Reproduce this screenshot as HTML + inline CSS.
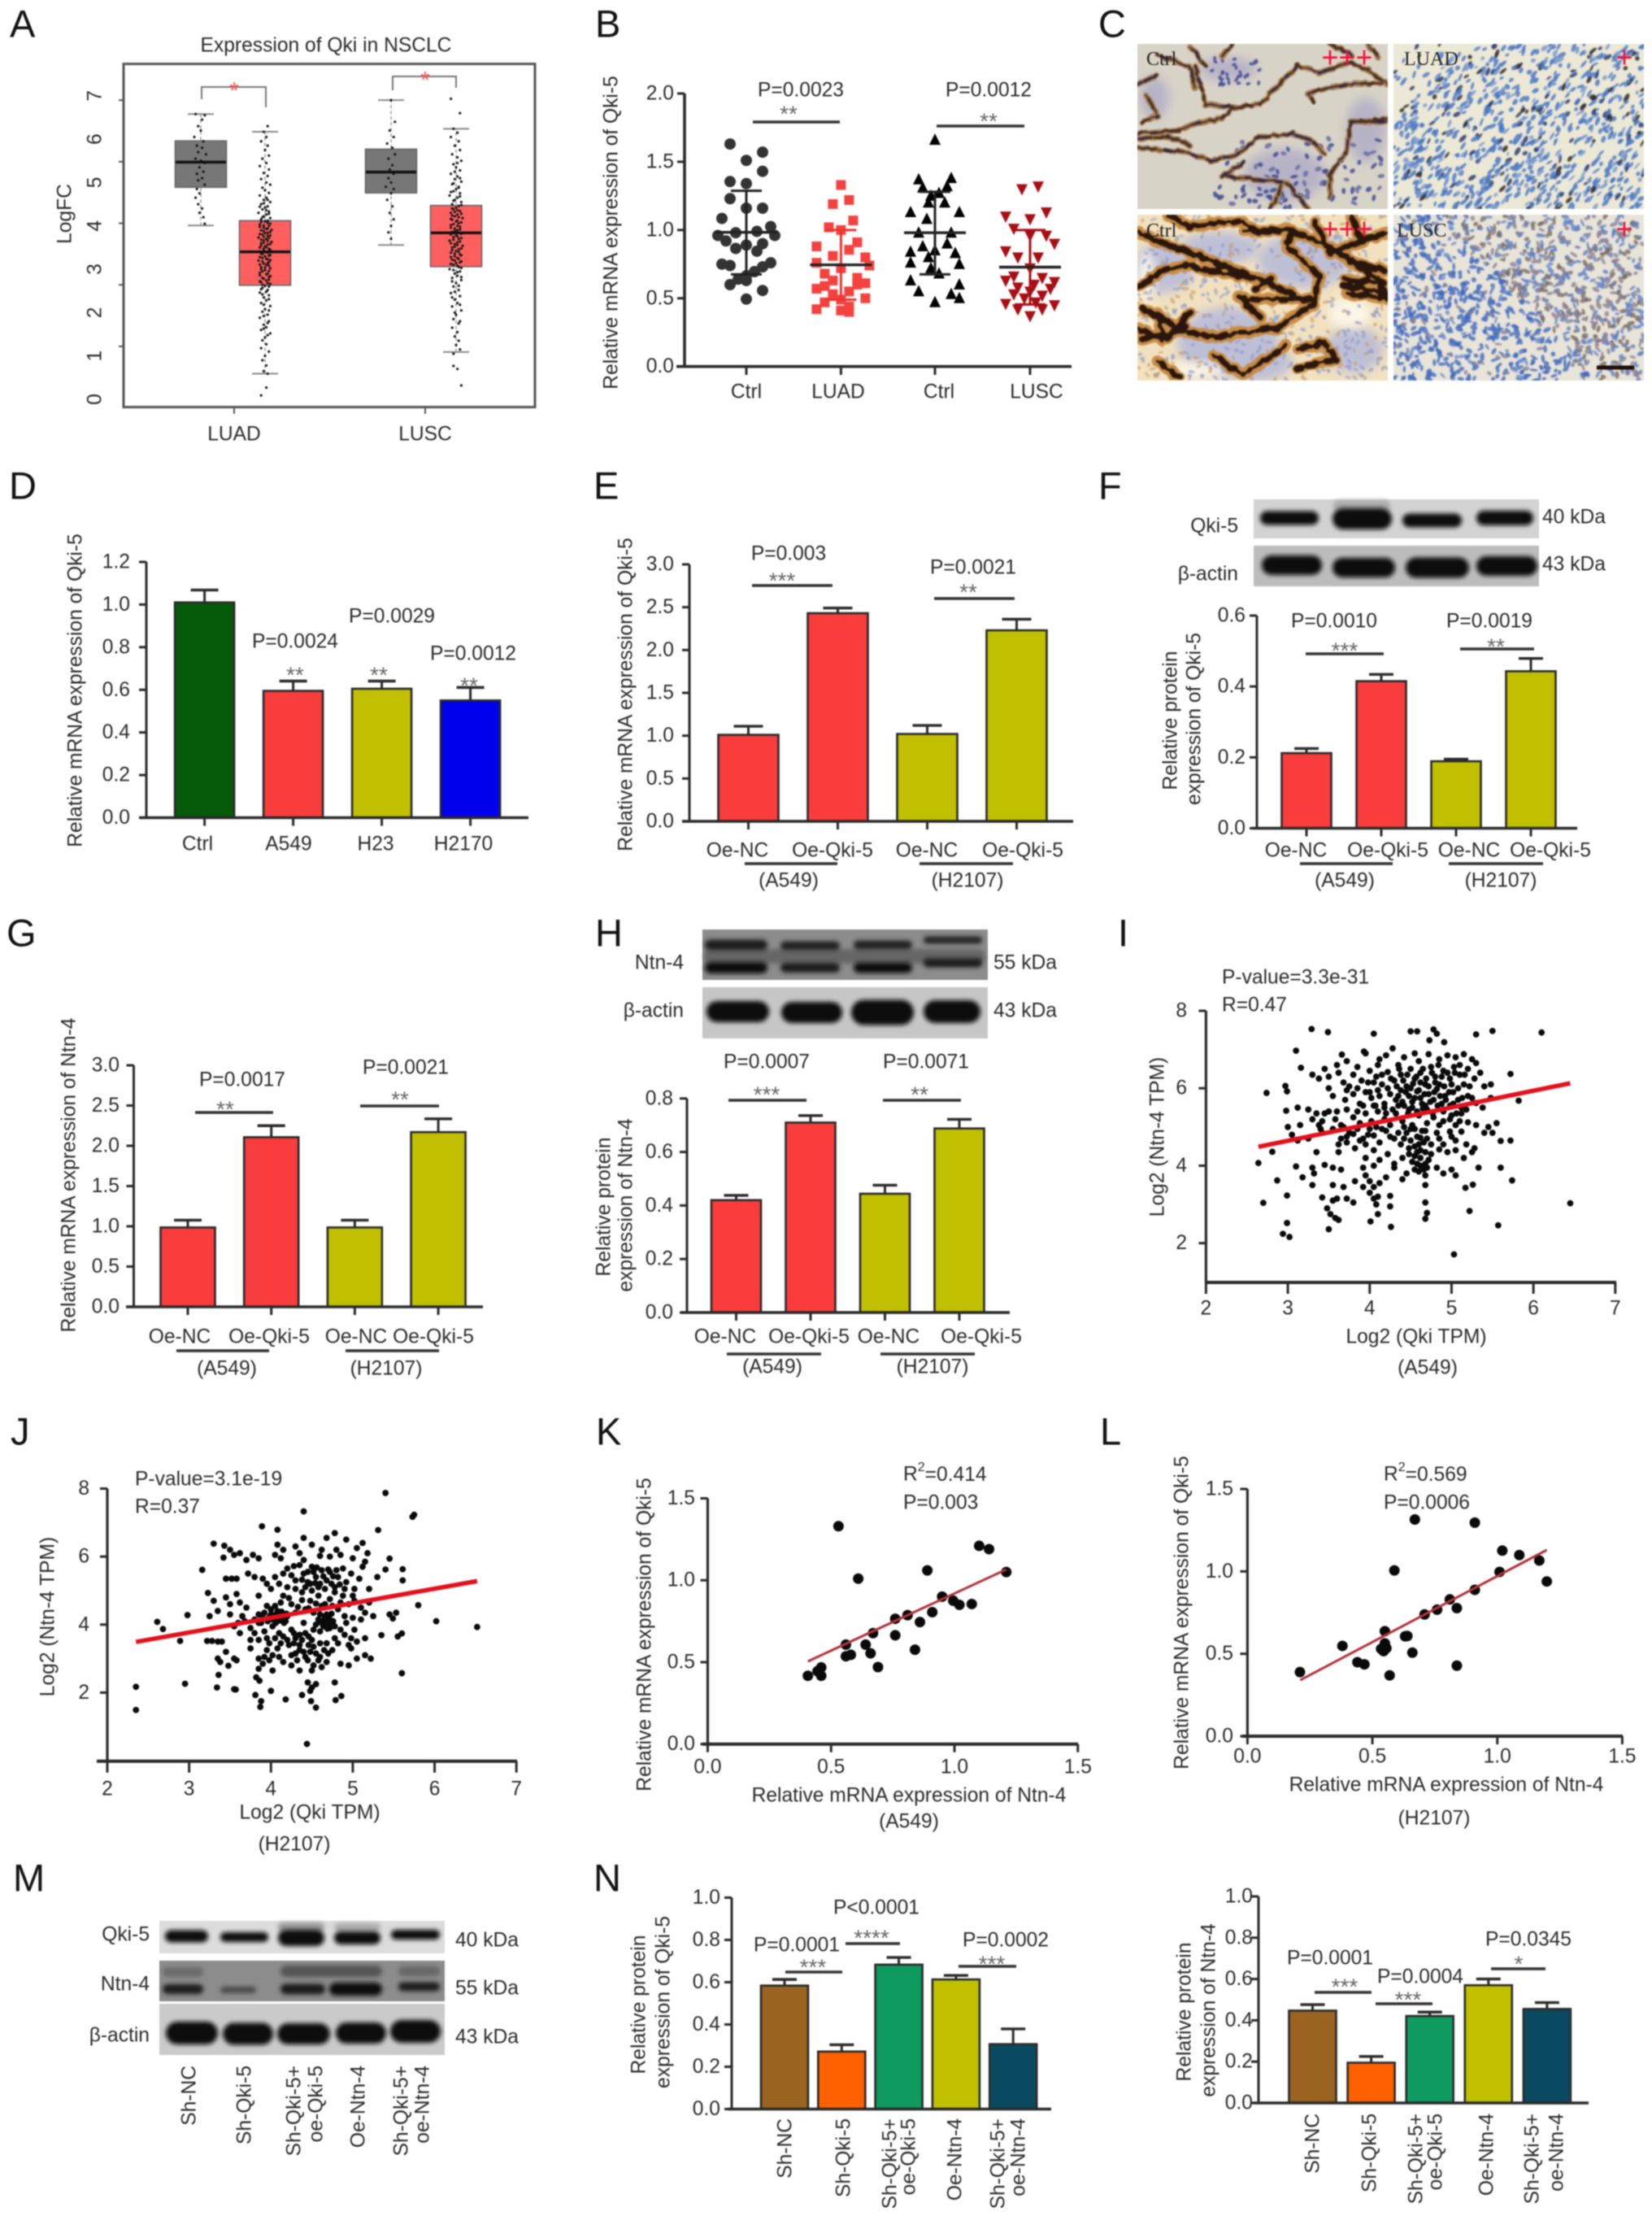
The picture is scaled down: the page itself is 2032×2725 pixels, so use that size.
<!DOCTYPE html>
<html lang="en">
<head>
<meta charset="utf-8">
<title>Qki-5 and Ntn-4 expression in NSCLC</title>
<style>
html,body{margin:0;padding:0;background:#fff}
svg{display:block;filter:blur(.7px)}
text{font-family:"Liberation Sans",Arial,sans-serif;font-size:24.6px;fill:#2a2a2a;dominant-baseline:central}
.m{text-anchor:middle}
.e{text-anchor:end}
.L{font-size:47px;fill:#111}
.s{font-size:28px;fill:#666;text-anchor:middle}
.r{fill:#f5103a;font-size:36px;text-anchor:middle}
.h{font-family:"Liberation Serif",serif;font-size:24px;fill:#222}
.u{stroke:#333;stroke-width:3.6}
</style>
</head>
<body>
<svg id="figure" width="2032" height="2725" viewBox="0 0 2032 2725" xmlns="http://www.w3.org/2000/svg">
<defs>
<filter id="b1" x="-2%" y="-2%" width="104%" height="104%"><feGaussianBlur stdDeviation=".9"/></filter>
<filter id="b2" x="-20%" y="-80%" width="140%" height="260%"><feGaussianBlur stdDeviation="2.6"/></filter>
<filter id="b6" x="-30%" y="-30%" width="160%" height="160%"><feGaussianBlur stdDeviation="6"/></filter>
<clipPath id="c-tl"><rect x="1399" y="54" width="308" height="203"/></clipPath>
<clipPath id="c-tr"><rect x="1714" y="54" width="308" height="203"/></clipPath>
<clipPath id="c-bl"><rect x="1399" y="264" width="308" height="204"/></clipPath>
<clipPath id="c-br"><rect x="1714" y="264" width="308" height="204"/></clipPath>
</defs>
<rect width="2032" height="2725" fill="#fff"/>
<g id="marks"></g>

<g>
<text class="L" x="12" y="29">A</text>
<text class="L" x="732" y="29">B</text>
<text class="L" x="1351" y="29">C</text>
<text class="L" x="11" y="597">D</text>
<text class="L" x="730" y="597">E</text>
<text class="L" x="1351" y="597">F</text>
<text class="L" x="8" y="1147">G</text>
<text class="L" x="732" y="1147">H</text>
<text class="L" x="1375" y="1147">I</text>
<text class="L" x="13" y="1760">J</text>
<text class="L" x="733" y="1760">K</text>
<text class="L" x="1353" y="1760">L</text>
<text class="L" x="16" y="2309">M</text>
<text class="L" x="730" y="2309">N</text>
</g>

<g>
<text class="m" x="401" y="56">Expression of Qki in NSCLC</text>
<text class="m" transform="rotate(-90 80 263)" x="80" y="263">LogFC</text>
<text class="m" x="288" y="534">LUAD</text>
<text class="m" x="523" y="534">LUSC</text>
<text class="m" x="288" y="112" style="fill:#f55;font-size:30px">*</text>
<text class="m" x="523" y="99" style="fill:#f55;font-size:30px">*</text>
</g>

<g>
<text class="m" transform="rotate(-90 752 286)" x="752" y="286">Relative mRNA expression of Qki-5</text>
<text class="m" x="918" y="482">Ctrl</text>
<text class="m" x="1031" y="482">LUAD</text>
<text class="m" x="1155" y="482">Ctrl</text>
<text class="m" x="1275" y="482">LUSC</text>
<text class="m" x="985" y="111">P=0.0023</text>
<text class="s" x="970" y="140">**</text>
<line class="u" x1="926" y1="150" x2="1033" y2="150"/>
<text class="m" x="1216" y="111">P=0.0012</text>
<text class="s" x="1216" y="149">**</text>
<line class="u" x1="1152" y1="155" x2="1260" y2="155"/>
</g>

<g>
<text class="h" x="1410" y="73">Ctrl</text>
<text class="h" x="1727" y="73">LUAD</text>
<text class="h" x="1410" y="284">Ctrl</text>
<text class="h" x="1718" y="284">LUSC</text>
<text class="r" x="1657" y="70">+++</text>
<text class="r" x="1998" y="70">+</text>
<text class="r" x="1657" y="281">+++</text>
<text class="r" x="1998" y="281">+</text>
</g>

<g>
<text class="m" transform="rotate(-90 93 849)" x="93" y="849">Relative mRNA expression of Qki-5</text>
<text class="m" x="243" y="1038">Ctrl</text>
<text class="m" x="355" y="1038">A549</text>
<text class="m" x="462" y="1038">H23</text>
<text class="m" x="570" y="1038">H2170</text>
<text class="m" x="363" y="789">P=0.0024</text>
<text class="m" x="482" y="758">P=0.0029</text>
<text class="m" x="582" y="804">P=0.0012</text>
<text class="s" x="363" y="830">**</text>
<text class="s" x="466" y="830">**</text>
<text class="s" x="577" y="843">**</text>
</g>

<g>
<text class="m" transform="rotate(-90 770 854)" x="770" y="854">Relative mRNA expression of Qki-5</text>
<text class="m" x="907" y="1046">Oe-NC</text>
<text class="m" x="1024" y="1046">Oe-Qki-5</text>
<text class="m" x="1140" y="1046">Oe-NC</text>
<text class="m" x="1258" y="1046">Oe-Qki-5</text>
<line class="u" x1="916" y1="1062" x2="1030" y2="1062"/>
<line class="u" x1="1131" y1="1062" x2="1246" y2="1062"/>
<text class="m" x="970" y="1083">(A549)</text>
<text class="m" x="1190" y="1083">(H2107)</text>
<text class="m" x="970" y="681">P=0.003</text>
<text class="s" x="962" y="714">***</text>
<line class="u" x1="925" y1="720" x2="1024" y2="720"/>
<text class="m" x="1197" y="698">P=0.0021</text>
<text class="s" x="1191" y="728">**</text>
<line class="u" x1="1149" y1="736" x2="1248" y2="736"/>
</g>

<g>
<text class="e" x="1523" y="647">Qki-5</text>
<text class="e" x="1523" y="706">β-actin</text>
<text x="1897" y="636">40 kDa</text>
<text x="1897" y="694">43 kDa</text>
<text class="m" transform="rotate(-90 1440 886)" x="1440" y="886">Relative protein</text>
<text class="m" transform="rotate(-90 1469 884)" x="1469" y="884">expression of Qki-5</text>
<text class="m" x="1594" y="1046">Oe-NC</text>
<text class="m" x="1707" y="1046">Oe-Qki-5</text>
<text class="m" x="1807" y="1046">Oe-NC</text>
<text class="m" x="1907" y="1046">Oe-Qki-5</text>
<line class="u" x1="1599" y1="1062" x2="1713" y2="1062"/>
<line class="u" x1="1782" y1="1062" x2="1898" y2="1062"/>
<text class="m" x="1654" y="1083">(A549)</text>
<text class="m" x="1846" y="1083">(H2107)</text>
<text class="m" x="1641" y="764">P=0.0010</text>
<text class="s" x="1654" y="800">***</text>
<line class="u" x1="1606" y1="804" x2="1702" y2="804"/>
<text class="m" x="1832" y="764">P=0.0019</text>
<text class="s" x="1840" y="795">**</text>
<line class="u" x1="1796" y1="798" x2="1887" y2="798"/>
</g>

<g>
<text class="m" transform="rotate(-90 85 1445)" x="85" y="1445">Relative mRNA expression of Ntn-4</text>
<text class="m" x="221" y="1644">Oe-NC</text>
<text class="m" x="331" y="1644">Oe-Qki-5</text>
<text class="m" x="438" y="1644">Oe-NC</text>
<text class="m" x="533" y="1644">Oe-Qki-5</text>
<line class="u" x1="217" y1="1661" x2="331" y2="1661"/>
<line class="u" x1="425" y1="1661" x2="540" y2="1661"/>
<text class="m" x="279" y="1683">(A549)</text>
<text class="m" x="475" y="1683">(H2107)</text>
<text class="m" x="298" y="1328">P=0.0017</text>
<text class="s" x="277" y="1364">**</text>
<line class="u" x1="240" y1="1368" x2="336" y2="1368"/>
<text class="m" x="499" y="1313">P=0.0021</text>
<text class="s" x="492" y="1352">**</text>
<line class="u" x1="443" y1="1360" x2="540" y2="1360"/>
</g>

<g>
<text class="e" x="841" y="1184">Ntn-4</text>
<text class="e" x="841" y="1243">β-actin</text>
<text x="1222" y="1184">55 kDa</text>
<text x="1222" y="1243">43 kDa</text>
<text class="m" transform="rotate(-90 743 1484)" x="743" y="1484">Relative protein</text>
<text class="m" transform="rotate(-90 770 1482)" x="770" y="1482">expression of Ntn-4</text>
<text class="m" x="892" y="1644">Oe-NC</text>
<text class="m" x="995" y="1644">Oe-Qki-5</text>
<text class="m" x="1093" y="1644">Oe-NC</text>
<text class="m" x="1207" y="1644">Oe-Qki-5</text>
<line class="u" x1="894" y1="1665" x2="1010" y2="1665"/>
<line class="u" x1="1083" y1="1665" x2="1199" y2="1665"/>
<text class="m" x="950" y="1681">(A549)</text>
<text class="m" x="1147" y="1681">(H2107)</text>
<text class="m" x="943" y="1306">P=0.0007</text>
<text class="s" x="943" y="1346">***</text>
<line class="u" x1="896" y1="1353" x2="992" y2="1353"/>
<text class="m" x="1139" y="1306">P=0.0071</text>
<text class="s" x="1131" y="1346">**</text>
<line class="u" x1="1086" y1="1353" x2="1182" y2="1353"/>
</g>

<g>
<text x="1503" y="1202">P-value=3.3e-31</text>
<text x="1503" y="1236">R=0.47</text>
<text class="m" transform="rotate(-90 1424 1398)" x="1424" y="1398">Log2 (Ntn-4 TPM)</text>
<text class="m" x="1742" y="1644">Log2 (Qki TPM)</text>
<text class="m" x="1756" y="1682">(A549)</text>
</g>

<g>
<text x="166" y="1819">P-value=3.1e-19</text>
<text x="166" y="1853">R=0.37</text>
<text class="m" transform="rotate(-90 59 1988)" x="59" y="1988">Log2 (Ntn-4 TPM)</text>
<text class="m" x="381" y="2229">Log2 (Qki TPM)</text>
<text class="m" x="362" y="2268">(H2107)</text>
</g>

<g>
<text x="1111" y="1813">R<tspan dy="-9" font-size="16">2</tspan><tspan dy="9">=0.414</tspan></text>
<text x="1111" y="1848">P=0.003</text>
<text class="m" transform="rotate(-90 793 2010)" x="793" y="2010">Relative mRNA expression of Qki-5</text>
<text class="m" x="1118" y="2208">Relative mRNA expression of Ntn-4</text>
<text class="m" x="1118" y="2240">(A549)</text>
</g>

<g>
<text x="1702" y="1813">R<tspan dy="-9" font-size="16">2</tspan><tspan dy="9">=0.569</tspan></text>
<text x="1702" y="1848">P=0.0006</text>
<text class="m" transform="rotate(-90 1454 1983)" x="1454" y="1983">Relative mRNA expression of Qki-5</text>
<text class="m" x="1779" y="2195">Relative mRNA expression of Ntn-4</text>
<text class="m" x="1764" y="2236">(H2107)</text>
</g>

<g>
<text class="e" x="184" y="2379">Qki-5</text>
<text class="e" x="184" y="2440">Ntn-4</text>
<text class="e" x="184" y="2503">β-actin</text>
<text x="560" y="2386">40 kDa</text>
<text x="560" y="2445">55 kDa</text>
<text x="560" y="2505">43 kDa</text>
<text class="e" transform="rotate(-90 233 2540)" x="233" y="2540">Sh-NC</text>
<text class="e" transform="rotate(-90 301 2540)" x="301" y="2540">Sh-Qki-5</text>
<text class="e" transform="rotate(-90 362 2540)" x="362" y="2540">Sh-Qki-5+</text>
<text class="e" transform="rotate(-90 389 2540)" x="389" y="2540">oe-Qki-5</text>
<text class="e" transform="rotate(-90 441 2540)" x="441" y="2540">Oe-Ntn-4</text>
<text class="e" transform="rotate(-90 494 2540)" x="494" y="2540">Sh-Qki-5+</text>
<text class="e" transform="rotate(-90 520 2540)" x="520" y="2540">oe-Ntn-4</text>
</g>

<g>
<text class="m" transform="rotate(-90 786 2465)" x="786" y="2465">Relative protein</text>
<text class="m" transform="rotate(-90 816 2462)" x="816" y="2462">expression of Qki-5</text>
<text class="e" transform="rotate(-90 966 2605)" x="966" y="2605">Sh-NC</text>
<text class="e" transform="rotate(-90 1038 2605)" x="1038" y="2605">Sh-Qki-5</text>
<text class="e" transform="rotate(-90 1095 2605)" x="1095" y="2605">Sh-Qki-5+</text>
<text class="e" transform="rotate(-90 1118 2605)" x="1118" y="2605">oe-Qki-5</text>
<text class="e" transform="rotate(-90 1175 2605)" x="1175" y="2605">Oe-Ntn-4</text>
<text class="e" transform="rotate(-90 1228 2605)" x="1228" y="2605">Sh-Qki-5+</text>
<text class="e" transform="rotate(-90 1253 2605)" x="1253" y="2605">oe-Ntn-4</text>
<text class="m" x="980" y="2392">P=0.0001</text>
<text class="s" x="1000" y="2419">***</text>
<line class="u" x1="966" y1="2425" x2="1036" y2="2425"/>
<text class="m" x="1078" y="2346">P&lt;0.0001</text>
<text class="s" x="1072" y="2383">****</text>
<line class="u" x1="1040" y1="2390" x2="1107" y2="2390"/>
<text class="m" x="1237" y="2386">P=0.0002</text>
<text class="s" x="1220" y="2415">***</text>
<line class="u" x1="1179" y1="2418" x2="1250" y2="2418"/>
</g>

<g>
<text class="m" transform="rotate(-90 1457 2474)" x="1457" y="2474">Relative protein</text>
<text class="m" transform="rotate(-90 1487 2472)" x="1487" y="2472">expression of Ntn-4</text>
<text class="e" transform="rotate(-90 1615 2599)" x="1615" y="2599">Sh-NC</text>
<text class="e" transform="rotate(-90 1685 2599)" x="1685" y="2599">Sh-Qki-5</text>
<text class="e" transform="rotate(-90 1742 2599)" x="1742" y="2599">Sh-Qki-5+</text>
<text class="e" transform="rotate(-90 1766 2599)" x="1766" y="2599">oe-Qki-5</text>
<text class="e" transform="rotate(-90 1829 2599)" x="1829" y="2599">Oe-Ntn-4</text>
<text class="e" transform="rotate(-90 1885 2599)" x="1885" y="2599">Sh-Qki-5+</text>
<text class="e" transform="rotate(-90 1915 2599)" x="1915" y="2599">oe-Ntn-4</text>
<text class="m" x="1636" y="2408">P=0.0001</text>
<text class="s" x="1654" y="2443">***</text>
<line class="u" x1="1617" y1="2450" x2="1687" y2="2450"/>
<text class="m" x="1747" y="2431">P=0.0004</text>
<text class="s" x="1732" y="2459">***</text>
<line class="u" x1="1692" y1="2464" x2="1762" y2="2464"/>
<text class="m" x="1880" y="2385">P=0.0345</text>
<text class="s" x="1868" y="2415">*</text>
<line class="u" x1="1834" y1="2421" x2="1901" y2="2421"/>
</g>
</svg>

<script>
// ---------- panel A data: [q1, median, q3, whisker low, whisker high]
const aTickLabels = [0,1,2,3,4,5,6,7];
const aTickMarks = [6.9,5.48,4.06,2.64,1.22];
const aLuadNormalBox = [4.89,5.47,5.96,4.01,6.58];
const aLuadTumorBox = [2.63,3.40,4.12,0.59,6.17];
const aLuscNormalBox = [4.76,5.24,5.77,3.56,6.9];
const aLuscTumorBox = [3.06,3.84,4.47,1.09,6.24];
// [value, horizontal jitter]
const aLuadNormalPts = [[6.58,-4],[6.55,3],[6.45,1],[6.3,-2],[6.2,0],[6.05,-5],[5.95,2],[5.85,-3],[5.8,1],[5.7,-2],[5.65,4],[5.55,-4],[5.5,0],[5.45,3],[5.35,-1],[5.25,2],[5.2,-3],[5.1,1],[5.05,-2],[4.95,3],[4.85,-3],[4.75,-1],[4.65,-4],[4.5,-2],[4.4,1],[4.3,-1],[4.2,2],[4.05,3]];
const aLuadTumorPts = [[6.3,2],[6.17,-1],[6.05,1],[5.95,-3],[5.85,2],[5.75,0],[5.62,3],[5.55,-2],[5.45,1],[5.38,-4],[5.3,3],[5.22,-1],[5.15,2],[5.08,-3],[5.0,1],[4.95,4],[4.88,-2],[4.82,0],[4.76,3],[4.7,-4],[4.65,1],[4.6,-1],[4.55,4],[4.5,-3],[4.45,2],[4.42,0],[4.38,-2],[4.33,3],[4.3,-5],[4.26,1],[4.22,-1],[4.18,4],[4.15,-3],[4.1,0],[4.07,2],[4.03,-4],[4.0,3],[3.96,-1],[3.93,1],[3.9,-3],[3.86,4],[3.83,0],[3.8,-2],[3.77,2],[3.73,-5],[3.7,1],[3.67,-1],[3.63,5],[3.6,-3],[3.57,2],[3.53,0],[3.5,-4],[3.47,3],[3.43,-1],[3.4,1],[3.36,-3],[3.33,4],[3.3,0],[3.26,-2],[3.23,2],[3.2,-5],[3.16,3],[3.13,-1],[3.1,1],[3.05,-3],[3.02,4],[2.98,0],[2.95,-2],[2.9,2],[2.86,-4],[2.82,3],[2.78,-1],[2.74,1],[2.7,-3],[2.66,4],[2.62,0],[2.57,-2],[2.52,2],[2.46,-4],[2.4,3],[2.35,-1],[2.28,1],[2.22,-3],[2.15,4],[2.08,0],[2.02,-2],[1.95,2],[1.88,-4],[1.8,3],[1.72,-1],[1.66,1],[1.6,-3],[1.52,4],[1.43,0],[1.36,-2],[1.27,1],[1.18,-3],[1.1,3],[1.0,0],[.9,-2],[.78,1],[.65,-1],[.59,2],[.27,1],[.09,-3],
[4.6,2],[4.52,-1],[4.44,-4],[4.36,1],[4.28,3],[4.2,-2],[4.12,2],[4.09,-3],[4.05,4],[4.01,-1],[3.98,-4],[3.94,2],[3.91,5],[3.88,-1],[3.84,2],[3.81,-4],[3.78,4],[3.75,-1],[3.72,3],[3.68,-3],[3.65,2],[3.61,-1],[3.58,4],[3.55,-3],[3.51,1],[3.48,-1],[3.45,4],[3.41,-4],[3.38,2],[3.35,-2],[3.31,3],[3.28,-4],[3.24,1],[3.21,4],[3.18,-2],[3.14,2],[3.11,-4],[3.08,3],[3.04,0],[3.0,-3],[2.96,3],[2.92,-4],[2.88,1],[2.84,4],[2.8,-2],[2.76,3],[2.72,-4],[2.68,2],[2.64,-2],[2.6,3],[2.54,-3],[2.48,1],[2.42,-2],[2.31,3],[2.18,-1],[2.05,3],[1.92,-1],[1.76,2],[1.63,-1],[1.48,2]];
const aLuscNormalPts = [[6.9,0],[6.4,3],[6.2,-1],[6.05,2],[5.9,-3],[5.8,1],[5.65,3],[5.55,-2],[5.4,1],[5.3,-1],[5.2,2],[5.1,-2],[5.0,0],[4.9,-4],[4.85,2],[4.75,0],[4.6,-3],[4.45,1],[4.3,-1],[4.15,2],[4.0,0],[3.85,-2],[3.7,0]];
const aLuscTumorPts = [[6.93,-4],[6.6,3],[6.24,-2],[6.15,1],[6.05,-4],[5.95,2],[5.85,-1],[5.75,3],[5.65,-3],[5.58,1],[5.5,4],[5.42,-2],[5.35,0],[5.28,3],[5.2,-4],[5.14,1],[5.08,-1],[5.02,4],[4.96,-3],[4.9,2],[4.85,0],[4.8,-2],[4.75,3],[4.7,-5],[4.65,1],[4.6,-1],[4.55,4],[4.5,-3],[4.46,2],[4.42,0],[4.38,-2],[4.34,3],[4.3,-4],[4.26,1],[4.22,-1],[4.18,5],[4.14,-3],[4.1,0],[4.06,2],[4.02,-4],[3.98,3],[3.94,-1],[3.9,1],[3.86,-3],[3.82,4],[3.78,0],[3.74,-2],[3.7,2],[3.66,-5],[3.62,1],[3.58,-1],[3.54,5],[3.5,-3],[3.46,2],[3.42,0],[3.38,-4],[3.34,3],[3.3,-1],[3.26,1],[3.22,-3],[3.18,4],[3.14,0],[3.1,-2],[3.05,2],[3.0,-5],[2.95,3],[2.9,-1],[2.85,1],[2.8,-3],[2.75,4],[2.68,0],[2.6,-2],[2.52,2],[2.45,-4],[2.38,3],[2.3,-1],[2.22,1],[2.14,-3],[2.05,4],[1.95,0],[1.85,-2],[1.75,2],[1.65,-3],[1.55,1],[1.45,-1],[1.35,2],[1.25,0],[1.15,3],[1.05,-2],[.77,-2],[.7,1],[.32,4],
[5.45,1],[5.25,-1],[5.1,3],[4.98,-2],[4.88,2],[4.78,-4],[4.68,3],[4.58,-2],[4.48,4],[4.4,-3],[4.36,1],[4.32,-1],[4.28,4],[4.24,-3],[4.2,2],[4.16,-4],[4.12,1],[4.08,4],[4.04,-2],[4.0,1],[3.96,-4],[3.92,3],[3.88,-1],[3.84,3],[3.8,-4],[3.76,1],[3.72,4],[3.68,-2],[3.64,3],[3.6,-4],[3.56,1],[3.52,-1],[3.48,4],[3.44,-3],[3.4,2],[3.36,-1],[3.32,4],[3.28,-4],[3.24,2],[3.2,-1],[3.16,3],[3.12,-4],[3.08,1],[3.03,4],[2.98,-2],[2.93,1],[2.82,4],[2.72,-3],[2.62,2],[2.48,-1],[2.35,-3],[2.18,3],[2.0,-1],[1.8,3]];

// ---------- panel B data: [value, swarm slot]
const bTicks = [0,.5,1,1.5,2];
const bCtrlLuad = [[1.63,-2],[1.57,2],[1.51,0],[1.43,2],[1.355,-2],[1.34,0],[1.23,-2],[1.16,0],[1.16,2],[1.085,-3],[1.025,3],[.99,1.3],[.98,-1.3],[.96,-3.5],[.96,3.5],[.92,-2.5],[.89,0],[.9,2],[.865,-1.3],[.845,1.3],[.76,3],[.75,-3],[.74,-2],[.73,2],[.695,1],[.665,0],[.64,-1],[.6,-2],[.63,0],[.557,2],[.494,0]];
const bLuad = [[1.33,0],[1.22,1],[1.19,-1],[1.07,1.5],[1.02,-1.5],[1.0,0],[.91,2],[.88,-3],[.855,1],[.81,-1],[.8,3],[.76,-3],[.74,3.5],[.72,0],[.68,-2],[.65,2],[.63,-1],[.61,3],[.6,2],[.59,-2],[.57,-3],[.55,1],[.53,-1],[.5,3],[.49,0],[.47,-2],[.44,1],[.42,-3],[.41,0],[.4,1]];
const bCtrlLusc = [[1.66,0],[1.38,2],[1.37,-2],[1.32,1.5],[1.31,-1.5],[1.27,.5],[1.25,-.5],[1.2,-.8],[1.2,1.2],[1.13,-3],[1.13,3],[1.08,-1],[.98,-2],[.98,2],[.9,1.5],[.88,-1.5],[.85,0],[.84,-3],[.83,2.5],[.8,-.8],[.76,-3],[.75,3],[.72,-.5],[.68,.5],[.63,-3],[.6,3],[.55,-2],[.53,2],[.5,3],[.47,0]];
const bLusc = [[1.32,1],[1.30,-1],[1.13,2],[1.1,-3],[1.08,0],[1.01,-2],[.96,2],[.9,3],[.96,0],[.845,-3],[.8,-1.5],[.8,1],[.72,0],[.66,-2],[.65,1.5],[.63,-3],[.62,3],[.6,.5],[.58,-1.5],[.57,2.5],[.55,0],[.53,-2],[.52,1.5],[.5,-.7],[.47,.7],[.46,-3],[.45,3],[.42,-1.5],[.42,1.5],[.37,0]];
// [mean, sd low, sd high]
const bSummary = [[.983,.675,1.287],[.745,.49,1.0],[.98,.675,1.28],[.728,.455,1.0]];

// ---------- bar panels
const dCategories = ['Ctrl','A549','H23','H2170'];
const dValues = [1.01,.595,.605,.55];
const dErrors = [.058,.046,.036,.061];
const dTicks = [0,.2,.4,.6,.8,1,1.2];
const eCategories = ['Oe-NC A549','Oe-Qki-5 A549','Oe-NC H2107','Oe-Qki-5 H2107'];
const eValues = [1.01,2.43,1.02,2.23];
const eErrors = [.10,.06,.10,.13];
const eTicks = [0,.5,1,1.5,2,2.5,3];
const fCategories = ['Oe-NC A549','Oe-Qki-5 A549','Oe-NC H2107','Oe-Qki-5 H2107'];
const fValues = [.212,.415,.189,.443];
const fErrors = [.013,.019,.006,.036];
const fTicks = [0,.2,.4,.6];
const gCategories = ['Oe-NC A549','Oe-Qki-5 A549','Oe-NC H2107','Oe-Qki-5 H2107'];
const gValues = [.986,2.107,.986,2.17];
const gErrors = [.09,.143,.09,.165];
const gTicks = [0,.5,1,1.5,2,2.5,3];
const hCategories = ['Oe-NC A549','Oe-Qki-5 A549','Oe-NC H2107','Oe-Qki-5 H2107'];
const hValues = [.42,.71,.444,.688];
const hErrors = [.018,.026,.032,.034];
const hTicks = [0,.2,.4,.6,.8];
const nCategories = ['Sh-NC','Sh-Qki-5','Sh-Qki-5+oe-Qki-5','Oe-Ntn-4','Sh-Qki-5+oe-Ntn-4'];
const n1Values = [.584,.272,.683,.613,.307];
const n1Errors = [.029,.032,.034,.019,.072];
const n2Values = [.447,.195,.421,.57,.455];
const n2Errors = [.029,.03,.019,.03,.031];
const nTicks = [0,.2,.4,.6,.8,1];

// ---------- scatter panels
const iYTicks = [2,4,6,8];
const iXTicks = [2,3,4,5,6,7];
const iFit = [[2.64,4.49],[6.45,6.13]];
const iPoints = [[3.29,7.53],[3.49,7.45],[4.05,7.41],[4.5,7.47],[4.58,7.47],[4.78,7.52],[4.82,7.41],[4.73,7.24],[4.91,7.19],[5.3,7.39],[5.5,7.48],[6.1,7.44],[3.1,6.97],[3.16,6.53],[4.28,7.03],[3.93,6.95],[3.66,6.87],[2.74,5.88],[2.97,6.06],[2.99,5.92],[5.72,6.37],[5.82,5.68],[5.72,4.65],[5.6,4.64],[5.6,3.95],[5.74,3.62],[6.45,3.03],[5.57,2.46],[5.03,1.71],[2.64,4.07],[2.81,4.36],[2.87,3.62],[2.7,3.04],[2.99,3.23],[2.99,2.52],[2.94,2.24],[3.02,2.16],[3.5,2.36],[4.01,2.56],[4.26,2.42],[4.68,2.63],[5.22,2.83],[5.26,3.51],[5.17,3.43],[5.33,3.95],
[3.72,6.7],[3.95,6.9],[4.12,6.75],[4.2,6.85],[4.35,6.6],[4.42,6.8],[4.55,6.9],[4.6,6.7],[4.72,6.88],[4.85,6.75],[4.95,6.85],[5.05,6.8],[5.15,6.88],[5.25,6.75],[5.3,6.65],[4.1,6.6],[3.85,6.55],[3.6,6.6],[3.45,6.5],[3.3,6.35],[3.38,6.25],[3.5,6.3],
[3.62,6.4],[3.8,6.35],[3.9,6.2],[4.0,6.45],[4.08,6.3],[4.15,6.1],[4.22,6.42],[4.3,6.2],[4.38,6.35],[4.45,6.05],[4.5,6.5],[4.55,6.25],[4.62,6.4],[4.68,6.1],[4.75,6.55],[4.8,6.3],[4.85,6.1],[4.9,6.45],[4.98,6.25],[5.03,6.55],[5.1,6.35],[5.15,6.1],[5.2,6.5],[5.28,6.25],[5.35,6.4],[5.4,6.05],[5.48,6.1],[3.5,6.0],[3.68,6.15],[3.72,5.95],
[3.55,5.8],[3.7,5.7],[3.8,5.85],[3.88,5.6],[3.95,5.9],[4.02,5.75],[4.1,5.95],[4.18,5.6],[4.25,5.85],[4.32,5.7],[4.38,5.95],[4.42,5.55],[4.48,5.8],[4.52,5.65],[4.58,5.92],[4.62,5.75],[4.68,5.55],[4.72,5.85],[4.78,5.7],[4.82,5.98],[4.88,5.6],[4.92,5.8],[4.98,5.55],[5.02,5.9],[5.08,5.7],[5.12,5.5],[5.2,5.8],[5.3,5.62],[5.38,5.5],[5.48,5.75],
[3.25,5.45],[3.35,5.35],[3.42,5.15],[3.5,5.4],[3.58,5.2],[3.65,5.05],[3.72,5.45],[3.8,5.25],[3.88,5.1],[3.95,5.35],[4.02,5.15],[4.1,5.4],[4.18,5.2],[4.25,5.05],[4.32,5.35],[4.4,5.15],[4.48,5.45],[4.52,5.05],[4.6,5.3],[4.65,5.48],[4.7,5.1],[4.78,5.25],[4.85,5.05],[4.9,5.4],[4.98,5.2],[5.05,5.05],[5.12,5.35],[5.2,5.12],[5.3,5.05],[5.45,5.0],[5.55,5.1],[3.15,5.05],[3.0,5.0],[2.98,5.42],[3.12,5.5],
[3.05,4.8],[3.12,4.65],[3.25,4.7],[3.42,4.85],[3.55,4.95],[3.65,4.7],[3.72,4.6],[3.8,4.82],[3.88,4.65],[3.95,4.55],[4.05,4.78],[4.12,4.6],[4.2,4.9],[4.3,4.7],[4.38,4.55],[4.45,4.85],[4.5,4.65],[4.55,4.5],[4.62,4.72],[4.68,4.9],[4.75,4.55],[4.82,4.85],[4.9,4.55],[4.98,4.88],[5.05,4.65],[5.12,4.88],[5.18,4.55],[5.28,4.45],[5.4,4.85],[5.5,4.85],
[3.35,4.35],[3.62,4.35],[3.82,4.45],[3.95,4.2],[4.05,4.4],[4.12,4.15],[4.22,4.3],[4.3,4.05],[4.4,4.2],[4.48,4.45],[4.52,4.1],[4.58,4.35],[4.62,4.2],[4.68,4.05],[4.75,4.3],[4.85,4.42],[4.95,4.35],[5.05,4.4],[5.15,4.2],[5.25,4.35],
[3.1,3.98],[3.3,3.95],[3.32,3.8],[3.45,4.02],[3.55,3.95],[3.65,3.9],[3.82,3.6],[3.92,3.95],[4.05,4.0],[4.12,3.55],[4.2,3.7],[4.3,3.95],[4.4,3.65],[4.45,3.8],[4.55,3.9],[4.68,3.75],[4.82,3.95],[4.9,3.8],[5.0,3.9],[5.05,3.75],[3.18,3.7],
[3.3,3.5],[3.42,3.18],[3.55,3.5],[3.55,3.1],[3.72,3.15],[3.8,3.05],[3.92,3.45],[4.0,3.3],[4.05,3.15],[4.08,3.0],[4.25,3.22],[4.68,3.5],[3.48,2.9],[3.52,2.75],[3.58,2.65],[3.62,2.6],[4.1,2.75],[4.25,2.95],[4.68,3.05],[4.7,2.78],
[4.0,5.9],[4.05,6.15],[4.12,5.8],[4.15,6.35],[4.18,5.5],[4.22,6.0],[4.26,6.25],[4.28,5.45],[4.33,6.05],[4.35,5.8],[4.36,6.5],[4.4,5.65],[4.41,6.2],[4.44,5.9],[4.46,6.35],[4.47,5.35],[4.5,6.0],[4.52,5.5],[4.53,6.12],[4.55,5.75],[4.57,6.3],[4.58,5.4],[4.6,5.95],[4.62,6.15],[4.64,5.6],[4.65,6.5],[4.67,5.85],[4.69,6.25],[4.7,5.45],[4.72,6.05],[4.74,5.65],[4.76,6.4],[4.77,5.35],[4.79,5.9],[4.8,6.15],[4.83,5.55],[4.84,6.6],[4.86,5.8],[4.88,6.3],[4.9,5.45],[4.91,6.05],[4.93,5.7],[4.95,6.4],[4.97,5.9],[5.0,6.1],[5.02,5.6],[5.04,6.4],[5.06,5.35],[5.08,6.0],[5.1,6.6],[5.13,5.75],[5.16,6.35],[5.18,5.45],[5.22,6.05],[5.25,5.75],[3.75,6.05],[3.85,6.0],[3.92,5.55],[3.98,6.15],[4.07,5.55],[4.55,4.95],[4.58,4.75],[4.6,4.55],[4.62,4.4],[4.64,4.9],[4.66,4.6],[4.68,4.35],[4.7,4.7],[4.72,4.15],[4.55,4.25],[4.58,4.05],[4.6,3.85],[4.62,4.0],[4.66,3.9],[4.7,3.95],[4.5,4.95],[4.48,4.3],[4.42,4.7],[4.35,4.85],[4.25,4.75],[4.15,4.95],[4.08,5.0],[3.98,4.8],[3.85,4.95],[3.75,4.85],[3.68,5.0],[3.6,5.4],[3.45,5.35],[3.38,5.05],[3.3,5.2],[3.4,4.95],[3.62,4.55],[3.72,4.75],[3.92,4.7],[4.0,4.95],[4.9,5.15],[5.0,5.3],[5.1,5.15],[5.0,4.75],[4.85,4.7],[3.85,5.4],[4.05,5.55],[4.2,5.35],[4.35,5.55],[4.42,5.0],[3.95,3.75],[4.0,3.6],[4.05,3.45],[4.1,3.2],[3.68,3.45],[3.6,3.15]];
const jYTicks = [2,4,6,8];
const jXTicks = [2,3,4,5,6,7];
const jFit = [[2.35,3.49],[6.52,5.28]];
const jPoints = [[5.4,7.87],[4.4,7.33],[5.73,7.17],[5.75,7.23],[3.89,6.89],[4.08,6.79],[5.31,6.78],[4.78,6.69],[3.3,6.38],[3.43,6.32],[3.16,5.61],[3.23,4.93],[2.98,4.28],[2.61,4.08],[2.68,3.87],[2.89,3.52],[2.35,2.17],[2.35,1.49],[2.95,2.26],[3.34,2.15],[3.57,2.09],[3.36,2.52],[3.48,2.79],[3.81,1.93],[3.87,1.58],[4.18,1.8],[4.38,1.93],[4.49,1.75],[4.55,1.56],[4.79,1.78],[4.86,1.9],[4.44,.49],[5.6,2.57],[6.52,3.93],[6.02,4.1],[5.8,4.57],[5.61,5.63],[5.61,5.3],[5.45,5.94],[5.35,3.69],[5.55,3.65],[5.6,3.74],[5.53,4.35],[5.49,4.18],
[3.62,6.1],[3.7,5.9],[3.78,6.05],[3.85,5.95],[3.5,6.2],[3.55,6.05],[3.42,5.97],[4.05,6.05],[4.12,5.95],[4.15,6.2],[4.08,6.35],[4.3,6.3],[4.35,6.1],[4.4,6.55],[4.5,6.35],[4.62,6.2],[4.6,6.02],[4.68,6.55],[4.72,6.0],[4.8,6.2],[4.85,6.05],[4.92,6.5],[5.0,5.95],[5.05,6.25],[5.12,6.4],[5.18,6.1],[5.15,5.85],
[3.72,5.5],[3.8,5.4],[3.9,5.35],[3.95,5.2],[4.0,5.05],[4.05,5.4],[4.1,5.2],[4.15,5.5],[4.2,5.1],[4.3,5.3],[4.35,5.75],[4.4,5.5],[4.45,5.25],[4.5,5.7],[4.55,5.4],[4.58,5.1],[4.62,5.6],[4.68,5.3],[4.72,5.55],[4.78,5.1],[4.82,5.4],[4.88,5.65],[4.92,5.25],[4.98,5.5],[5.02,5.05],[5.08,5.35],[5.12,5.7],[5.2,5.05],[5.3,5.4],[5.4,5.62],[3.45,5.35],[3.52,5.35],[3.58,5.35],[4.28,5.72],
[3.3,4.7],[3.35,4.4],[3.25,4.25],[3.45,4.8],[3.5,4.6],[3.58,4.9],[3.62,4.65],[3.5,4.3],[3.7,4.5],[3.85,4.85],[3.95,4.55],[4.0,4.3],[4.05,4.55],[4.1,4.35],[4.15,4.85],[4.2,4.25],[4.25,4.6],[4.3,4.35],[4.38,4.95],[4.42,4.45],[4.48,4.7],[4.52,4.35],[4.58,4.85],[4.62,4.55],[4.68,4.3],[4.72,4.75],[4.78,4.95],[4.82,4.45],[4.88,4.85],[4.95,4.6],[5.02,4.7],[5.1,4.5],[5.2,4.65],[5.15,4.35],[5.25,4.25],[5.45,4.3],[3.9,4.2],[3.98,4.22],[4.08,4.18],[4.14,4.25],
[3.55,3.95],[3.62,3.75],[3.75,3.55],[3.85,4.05],[3.92,3.8],[3.95,3.6],[4.02,3.95],[4.1,3.75],[4.12,3.45],[4.18,4.1],[4.25,3.85],[4.3,3.6],[4.35,3.4],[4.4,4.05],[4.42,3.75],[4.5,3.55],[4.55,4.0],[4.6,3.8],[4.65,4.15],[4.68,4.0],[4.7,4.1],[4.72,3.9],[4.78,3.6],[4.82,3.45],[4.9,3.7],[4.98,3.6],[5.05,3.5],[5.15,3.6],[3.35,3.5],[3.4,3.5],[3.22,3.52],[3.28,3.52],
[3.35,3.0],[3.38,2.9],[3.45,3.2],[3.55,3.0],[3.58,2.95],[3.75,3.3],[3.85,3.0],[3.9,2.85],[3.85,2.7],[3.98,2.95],[4.02,2.65],[4.1,3.05],[4.15,2.9],[4.25,2.8],[4.3,3.15],[4.35,2.65],[4.4,3.2],[4.45,2.95],[4.52,2.8],[4.6,3.05],[4.68,2.9],[4.75,3.25],[4.85,2.85],[4.95,2.8],[4.98,3.3],[5.05,3.0],[5.15,3.1],[5.22,3.0],[3.82,2.45],[3.86,2.35],[3.55,2.1],
[4.0,2.05],[4.45,2.3],[4.5,2.15],[4.55,2.25],[4.48,2.05],[4.78,2.3],[3.88,1.75],
[3.92,4.35],[3.96,4.1],[4.0,4.45],[4.02,4.15],[4.04,4.28],[4.06,4.05],[4.08,4.4],[4.11,4.12],[4.13,4.38],[4.16,4.05],[4.19,4.32],[3.88,4.05],[3.85,4.3],[3.8,4.15],[4.64,3.95],[4.66,4.25],[4.67,4.12],[4.69,3.88],[4.71,4.2],[4.73,4.02],[4.74,4.32],[4.76,4.1],[4.62,4.05],[4.6,4.3],[4.58,4.15],[4.78,3.95],[4.45,5.55],[4.48,5.2],[4.5,5.0],[4.52,5.55],[4.54,5.22],[4.56,5.68],[4.6,5.2],[4.64,5.42],[4.66,5.05],[4.7,5.62],[4.74,5.2],[4.76,5.42],[4.8,5.6],[4.84,5.18],[4.4,5.9],[4.42,5.1],[4.38,5.32],[4.3,5.05],[4.25,5.45],[4.2,5.65],[4.22,3.4],[4.25,3.1],[4.28,3.45],[4.32,2.95],[4.35,3.25],[4.38,3.55],[4.42,3.05],[4.46,3.4],[4.48,3.2],[4.5,2.65],[4.52,3.35],[4.55,3.15],[4.58,2.95],[4.6,3.45],[4.62,2.75],[4.65,3.25],[4.68,3.45],[4.7,3.15],[4.08,3.3],[4.02,3.1],[3.95,3.25],[3.92,3.05],[3.85,3.55],[3.8,3.75],[3.75,3.9],[3.68,4.1],[3.65,4.25],[3.6,4.05],[3.98,3.45],[4.05,3.6],[4.15,3.65],[4.2,3.55],[4.28,3.75],[4.35,3.7],[4.46,3.65],[4.52,3.85],[4.85,3.85],[4.92,4.05],[5.0,4.2],[5.02,3.85],[5.1,4.15],[4.9,4.25],[4.95,3.4],[5.0,4.85],[4.9,5.05],[4.12,4.65],[4.22,4.78],[4.33,4.52],[4.38,4.72],[4.46,4.48],[4.55,4.62],[4.66,4.6],[4.75,4.55],[4.85,4.65]];
const kTicks = [0,.5,1,1.5];
const kFit = [[.406,.505],[1.21,1.066]];
const kPoints = [[.53,1.33],[.61,1.01],[.89,1.06],[1.10,1.21],[1.14,1.19],[1.21,1.05],[.95,.90],[.995,.875],[1.02,.85],[1.07,.855],[.91,.805],[.81,.787],[.76,.765],[.86,.745],[.67,.677],[.76,.664],[.56,.607],[.64,.607],[.66,.554],[.56,.536],[.58,.545],[.84,.576],[.69,.47],[.46,.468],[.46,.417],[.406,.417],[.445,.445]];
const lTicks = [0,.5,1,1.5];
const lFit = [[.211,.34],[1.198,1.13]];
const lPoints = [[.21,.389],[.38,.548],[.44,.449],[.468,.436],[.588,1.006],[.67,1.315],[.91,1.296],[1.02,1.126],[1.088,1.099],[1.168,1.066],[1.009,.997],[1.198,.939],[.91,.888],[.81,.83],[.838,.777],[.759,.768],[.709,.739],[.55,.637],[.631,.606],[.64,.608],[.55,.563],[.556,.534],[.535,.53],[.545,.516],[.66,.507],[.838,.428],[.569,.369]];

// ---------- helpers
const NS = 'http://www.w3.org/2000/svg';
const root = document.getElementById('marks');
function mk(parent, tag, attrs, name) {
  const el = document.createElementNS(NS, tag);
  for (const k in attrs) el.setAttribute(k, attrs[k]);
  
  
  parent.appendChild(el);
  return el;
}
function group(name, parent) { return mk(parent || root, 'g', {}, name); }
function linear(d0, d1, r0, r1) { return v => r0 + (v - d0) * (r1 - r0) / (d1 - d0); }
function seg(g, x1, y1, x2, y2, stroke, w, name) {
  return mk(g, 'line', {x1, y1, x2, y2, stroke, 'stroke-width': w}, name);
}
function label(g, x, y, str, anchor, name) {
  const t = mk(g, 'text', {x, y, 'text-anchor': anchor}, name);
  t.textContent = str;
  return t;
}
function yAxis(g, x, sy, ticks, top, bottom, fmt, labelX, w, prefix) {
  seg(g, x, top, x, bottom, '#2a2a2a', w, prefix + '-y-axis-line');
  ticks.forEach(v => {
    seg(g, x - 9, sy(v), x, sy(v), '#2a2a2a', 3, prefix + '-y-tick');
    label(g, labelX, sy(v), fmt(v), 'end', prefix + '-y-tick-label');
  });
}
const one = v => v.toFixed(1);
function barPanel(p, cats, vals, errs, colors, sy, c) {
  const g = group(p + '-chart');
  yAxis(g, c.axisX, sy, c.ticks, sy(c.ticks[c.ticks.length - 1]), sy(0) + 1, one, c.labelX, 3, p);
  cats.forEach((cat, i) => {
    const cx = c.first + i * c.step;
    const top = sy(vals[i]), capY = sy(vals[i] + errs[i]);
    seg(g, cx, top, cx, capY, '#2a2a2a', 3, p + '-error-stem');
    seg(g, cx - c.cap, capY, cx + c.cap, capY, '#2a2a2a', 3.4, p + '-error-cap');
    mk(g, 'rect', {x: cx - c.w / 2, y: top, width: c.w, height: sy(0) - top, fill: colors[i], stroke: '#2a2a2a', 'stroke-width': 2.6}, p + '-bar-' + cat.toLowerCase().replace(/[^a-z0-9]+/g, '-'));
    if (c.tick) seg(g, cx, sy(0), cx, sy(0) + 10, '#2a2a2a', 3, p + '-x-tick');
  });
  seg(g, c.xStart, sy(0), c.xEnd, sy(0), '#2a2a2a', 3.6, p + '-x-axis-line');
}
function scatterPanel(p, pts, fit, sx, sy, r, fitColor, fitW, c) {
  const g = group(p + '-chart');
  yAxis(g, c.axisX, sy, c.yTicks, sy(c.yTicks[c.yTicks.length - 1]), c.baseY + 1, c.fmt, c.labelX, 3.2, p);
  seg(g, c.xStart, c.baseY, c.xEnd, c.baseY, '#2a2a2a', 4, p + '-x-axis-line');
  c.xTicks.forEach(v => {
    seg(g, sx(v), c.baseY, sx(v), c.baseY + c.tickLen, '#2a2a2a', 3, p + '-x-tick');
    label(g, sx(v), c.labelY, c.fmt(v), 'middle', p + '-x-tick-label');
  });
  pts.forEach(pt => mk(g, 'circle', {cx: sx(pt[0]), cy: sy(pt[1]), r, fill: '#0a0a0a'}, p + '-point'));
  seg(g, sx(fit[0][0]), sy(fit[0][1]), sx(fit[1][0]), sy(fit[1][1]), fitColor, fitW, p + '-fit-line');
}

// ---------- panel A
(function () {
  const g = group('panel-a-chart');
  const sy = linear(0, 7, 491, 117.8);
  mk(g, 'rect', {x: 152, y: 78.6, width: 506, height: 422, fill: '#fff', stroke: '#555', 'stroke-width': 3}, 'panel-a-frame');
  aTickLabels.forEach(v => {
    const y = sy(v);
    const t = mk(g, 'text', {x: 117, y, 'text-anchor': 'middle', transform: 'rotate(-90 117 ' + y + ')'}, 'panel-a-y-tick-label');
    t.textContent = String(v);
  });
  aTickMarks.forEach(v => seg(g, 146, sy(v), 152, sy(v), '#555', 2, 'panel-a-y-tick'));
  [288, 523].forEach(x => seg(g, x, 501, x, 509, '#555', 2, 'panel-a-x-tick'));
  const boxes = [
    [247, aLuadNormalBox, aLuadNormalPts, '#777', 'luad-normal'],
    [326, aLuadTumorBox, aLuadTumorPts, '#ff5f5f', 'luad-tumor'],
    [481, aLuscNormalBox, aLuscNormalPts, '#777', 'lusc-normal'],
    [561, aLuscTumorBox, aLuscTumorPts, '#ff5f5f', 'lusc-tumor']
  ];
  boxes.forEach(b => {
    const cx = b[0], s = b[1];
    mk(g, 'line', {x1: cx, y1: sy(s[3]), x2: cx, y2: sy(s[4]), stroke: '#999', 'stroke-width': 1.5, 'stroke-dasharray': '4 3'}, 'panel-a-whisker-' + b[4]);
    seg(g, cx - 16, sy(s[3]), cx + 16, sy(s[3]), '#888', 2, 'panel-a-cap-low-' + b[4]);
    seg(g, cx - 16, sy(s[4]), cx + 16, sy(s[4]), '#888', 2, 'panel-a-cap-high-' + b[4]);
    mk(g, 'rect', {x: cx - 31.5, y: sy(s[2]), width: 63, height: sy(s[0]) - sy(s[2]), fill: b[3], stroke: '#666', 'stroke-width': 1.6}, 'panel-a-box-' + b[4]);
    b[2].forEach(pt => mk(g, 'circle', {cx: cx + pt[1] * 1.6, cy: sy(pt[0]), r: 1.6, fill: '#1a1a1a'}, 'panel-a-point-' + b[4]));
    seg(g, cx - 31, sy(s[1]), cx + 31, sy(s[1]), '#111', 3.4, 'panel-a-median-' + b[4]);
  });
  mk(g, 'path', {d: 'M248 122 V107 H327 V132', fill: 'none', stroke: '#777', 'stroke-width': 2}, 'panel-a-bracket-luad');
  mk(g, 'path', {d: 'M483 111 V94 H561 V108', fill: 'none', stroke: '#777', 'stroke-width': 2}, 'panel-a-bracket-lusc');
})();

// ---------- panel B
(function () {
  const g = group('panel-b-chart');
  const sy = linear(0, 2, 450.7, 115);
  yAxis(g, 842, sy, bTicks, 115, 452, one, 829, 3.6, 'panel-b');
  seg(g, 832, 450.7, 1318, 450.7, '#2a2a2a', 3.6, 'panel-b-x-axis-line');
  const xs = [918, 1034.4, 1150, 1267];
  xs.forEach(x => seg(g, x, 451, x, 461, '#2a2a2a', 3, 'panel-b-x-tick'));
  const sets = [[bCtrlLuad, '#333', 'c', 'ctrl-luad'], [bLuad, '#f4433f', 's', 'luad'], [bCtrlLusc, '#000', 't', 'ctrl-lusc'], [bLusc, '#a80f14', 'd', 'lusc']];
  sets.forEach((set, i) => {
    const cx = xs[i];
    set[0].forEach(pt => {
      const x = cx + pt[1] * 10, y = sy(pt[0]);
      if (set[2] === 'c') mk(g, 'circle', {cx: x, cy: y, r: 7, fill: set[1]}, 'panel-b-point-' + set[3]);
      if (set[2] === 's') mk(g, 'rect', {x: x - 6, y: y - 6, width: 12, height: 12, fill: set[1]}, 'panel-b-point-' + set[3]);
      if (set[2] === 't') mk(g, 'polygon', {points: [x, y - 8, x - 7, y + 6, x + 7, y + 6].join(' '), fill: set[1]}, 'panel-b-point-' + set[3]);
      if (set[2] === 'd') mk(g, 'polygon', {points: [x, y + 8, x - 7, y - 6, x + 7, y - 6].join(' '), fill: set[1]}, 'panel-b-point-' + set[3]);
    });
    const m = bSummary[i], col = '#222';
    const stem = i === 1 ? '#e33' : i === 3 ? '#a80f14' : col;
    seg(g, cx, sy(m[1]), cx, sy(m[2]), stem, 3, 'panel-b-sd-stem-' + set[3]);
    seg(g, cx - 19, sy(m[1]), cx + 19, sy(m[1]), stem, 3, 'panel-b-sd-low-' + set[3]);
    seg(g, cx - 19, sy(m[2]), cx + 19, sy(m[2]), stem, 3, 'panel-b-sd-high-' + set[3]);
    seg(g, cx - 38, sy(m[0]), cx + 38, sy(m[0]), col, 3.4, 'panel-b-mean-' + set[3]);
  });
})();

// ---------- panel C (histology textures, not data)
(function () {
  let seed = 20417;
  function rnd() {
    seed = (seed * 1664525 + 1013904223) % 4294967296;
    return seed / 4294967296;
  }
  function toX(x) { return 1000 + x * .6623; }
  function toY(y) { return y * .3571; }
  const frames = [
    ['tl', 1399, 54, 308, 203, '#d8d3c7'],
    ['tr', 1714, 54, 308, 203, '#ece8d6'],
    ['bl', 1399, 264, 308, 204, '#f1e1bf'],
    ['br', 1714, 264, 308, 204, '#e8e4d8']
  ];
  const ink = {
    tl: ['603,290 640,260', '710,230 720,300 730,360 780,370 830,360 860,300 900,225 940,250 1000,215 1030,240 1068,290', '930,350 920,320 990,290 1060,285', '1068,410 1000,420 990,530 960,600 960,680', '603,460 680,450 720,420 760,410 780,370', '603,510 680,520 740,555 790,530 830,470 890,460 930,490 950,530', '760,605 800,560', '760,605 880,630 920,720', '850,720 870,640', '700,160 730,230', '620,330 640,400 610,420', '780,150 760,190', '960,150 1000,190', '1030,150 1050,200', '710,300 700,230 640,190', '603,480 660,470 700,500', '1000,420 1068,415'],
    bl: ['603,800 640,830 700,870 780,930 840,970 900,1020', '603,990 650,930 690,910 730,930 830,960', '660,740 700,780 790,760 830,800', '800,800 880,790 960,850 1050,960 1068,1030', '890,800 880,850 940,950 930,1050 860,1130 750,1160 680,1140 640,1080', '640,1080 650,1150 610,1170', '700,1080 660,1160', '790,1020 830,1090 800,1030 930,1030', '1000,740 1020,830 960,870 1068,800', '900,1200 950,1180 970,1240 900,1270', '740,1220 800,1290 880,1190', '640,1240 680,1300', '930,760 950,830', '603,1130 650,1170 690,1120', '970,860 1000,900 1060,930', '985,960 1060,975', '985,985 1060,1005', '990,1010 1060,1025', '610,1060 640,1090', '820,1000 850,960']
  };
  function roughPoints(spec, amp) {
    const raw = spec.split(' ').map(p => p.split(',').map(Number));
    const out = [];
    for (let i = 0; i < raw.length - 1; i++) {
      const a = raw[i], b = raw[i + 1];
      const n = Math.max(2, Math.ceil(Math.hypot((b[0] - a[0]) * .66, (b[1] - a[1]) * .36) / 6));
      for (let k = 0; k <= n; k++) {
        out.push([toX(a[0] + (b[0] - a[0]) * k / n) + (rnd() - .5) * amp, toY(a[1] + (b[1] - a[1]) * k / n) + (rnd() - .5) * amp]);
      }
    }
    return out;
  }
  frames.forEach(f => {
    const key = f[0];
    const g = mk(root, 'g', {'clip-path': 'url(#c-' + key + ')'}, 'panel-c-image-' + key);
    mk(g, 'rect', {x: f[1], y: f[2], width: f[3], height: f[4], fill: f[5]}, 'panel-c-image-background');
    const soft = mk(g, 'g', {filter: 'url(#b1)'}, 'panel-c-tissue-' + key);
    function nucleus(x, y, rx, ry, col, rot, op) {
      mk(soft, 'ellipse', {cx: x, cy: y, rx, ry, fill: col, opacity: op, transform: 'rotate(' + rot + ' ' + x + ' ' + y + ')'}, 'panel-c-nucleus');
    }
    if (key === 'tl') {
      [[1580, 215, 50, 32], [1510, 85, 36, 14], [1420, 120, 18, 26], [1680, 160, 24, 40]].forEach(e => mk(soft, 'ellipse', {cx: e[0], cy: e[1], rx: e[2], ry: e[3], fill: '#b7b3c6', filter: 'url(#b6)'}, 'panel-c-tissue-patch'));
      for (let i = 0; i < 90; i++) {
        const x = 1490 + rnd() * 210, y = 170 + rnd() * 87;
        nucleus(x, y, 3 + rnd() * 2, 2 + rnd(), rnd() < .6 ? '#3d4a94' : '#6a68a0', rnd() * 180, .85);
      }
      for (let i = 0; i < 30; i++) {
        nucleus(1490 + rnd() * 60, 70 + rnd() * 35, 3, 2, '#3d4a94', rnd() * 180, .85);
      }
    }
    if (key === 'tr') {
      for (let i = 0; i < 1000; i++) {
        const x = f[1] + rnd() * f[3], y = f[2] + rnd() * f[4];
        if (x - f[1] + (y - f[2]) < 90 && rnd() < .85) continue;
        const r = rnd();
        const col = r < .62 ? '#4b78c4' : r < .82 ? '#7d9bcf' : r < .92 ? '#2c3a6a' : '#2a241f';
        nucleus(x, y, 2.5 + rnd() * 3.5, 1.3 + rnd() * 1.5, col, -50 + rnd() * 50 - 25, .85);
      }
    }
    if (key === 'bl') {
      [[1510, 420, 62, 42], [1605, 320, 58, 34], [1430, 330, 38, 30], [1545, 445, 44, 24], [1665, 430, 36, 28], [1500, 305, 50, 20]].forEach(e => mk(soft, 'ellipse', {cx: e[0], cy: e[1], rx: e[2], ry: e[3], fill: '#bdbfd6', filter: 'url(#b6)'}, 'panel-c-cell-patch'));
      [[1410, 340, 10, 30], [1470, 455, 40, 9], [1660, 385, 26, 18]].forEach(e => mk(soft, 'ellipse', {cx: e[0], cy: e[1], rx: e[2], ry: e[3], fill: '#fbf6e8', filter: 'url(#b6)'}, 'panel-c-white-patch'));
      for (let i = 0; i < 520; i++) {
        const x = f[1] + rnd() * f[3], y = f[2] + rnd() * f[4];
        nucleus(x, y, 2.5 + rnd() * 2, 1.4 + rnd(), rnd() < .7 ? '#8e98c8' : '#c59a62', rnd() * 180, .6);
      }
    }
    if (key === 'br') {
      for (let i = 0; i < 1200; i++) {
        const x = f[1] + rnd() * f[3], y = f[2] + rnd() * f[4];
        const leftish = (x - f[1]) / f[3] + (1 - (y - f[2]) / f[4]) * .6;
        const r = rnd();
        const col = leftish < .8 ? (r < .75 ? '#3f68bd' : r < .9 ? '#6d8cca' : '#857f95') : (r < .4 ? '#5f80c4' : r < .75 ? '#8a8194' : '#75695f');
        nucleus(x, y, 2.5 + rnd() * 3, 1.4 + rnd() * 1.5, col, rnd() * 180, .8);
      }
    }
    if (ink[key]) {
      const art = mk(g, 'g', {filter: 'url(#b1)'}, 'panel-c-stain-' + key);
      const fat = key === 'bl';
      const paths = ink[key].map(s => roughPoints(s, fat ? 3.4 : 3));
      paths.forEach(pts => {
        for (let i = 0; i < pts.length - 1; i++) {
          mk(art, 'line', {x1: pts[i][0], y1: pts[i][1], x2: pts[i + 1][0], y2: pts[i + 1][1], stroke: fat ? '#c98d46' : '#a87f52', 'stroke-width': (fat ? 10 : 5) + rnd() * (fat ? 6 : 3), 'stroke-linecap': 'round'}, 'panel-c-stain-halo');
        }
      });
      paths.forEach(pts => {
        for (let i = 0; i < pts.length - 1; i++) {
          mk(art, 'line', {x1: pts[i][0], y1: pts[i][1], x2: pts[i + 1][0], y2: pts[i + 1][1], stroke: fat ? '#2a1408' : (rnd() < .4 ? '#2f2a4a' : '#4a3024'), 'stroke-width': (fat ? 3.5 : 1.6) + rnd() * (fat ? 6 : 3), 'stroke-linecap': 'round'}, 'panel-c-stain-core');
        }
      });
    }
  });
  seg(root, 1964, 452, 2010, 452, '#201008', 5, 'panel-c-scale-bar');
})();

// ---------- blots (images, not data)
function blot(name, x, y, w, h, bg, bands) {
  const g = mk(root, 'g', {}, name);
  mk(g, 'rect', {x, y, width: w, height: h, fill: bg}, name + '-membrane');
  bands.forEach(b => mk(g, 'rect', {x: b[0], y: b[2] - b[3] / 2, width: b[1] - b[0], height: b[3], rx: b[3] / 2, fill: b[4] || '#0c0c0c', filter: 'url(#b2)'}, name + '-band'));
}
blot('panel-f-blot-qki5', 1542, 614, 351, 48, '#d2d2d2', [[1640, 1710, 622, 14, '#aaa'], [1550, 1622, 637, 17], [1639, 1712, 638, 26], [1725, 1798, 640, 17], [1816, 1886, 637, 18]]);
blot('panel-f-blot-actin', 1542, 671, 351, 50, '#bcbcbc', [[1552, 1626, 695, 24], [1639, 1716, 698, 24], [1729, 1807, 698, 25], [1816, 1891, 696, 24]]);
blot('panel-h-blot-ntn4', 864, 1143, 351, 62, '#8c8c8c', [[866, 1212, 1176, 18, '#666'], [867, 944, 1162, 13, '#1a1a1a'], [960, 1033, 1163, 11, '#222'], [1050, 1122, 1162, 11, '#222'], [1136, 1208, 1156, 9, '#222'], [867, 944, 1190, 14, '#111'], [960, 1033, 1190, 12, '#1a1a1a'], [1050, 1122, 1190, 13, '#111'], [1136, 1208, 1184, 11, '#1a1a1a']]);
blot('panel-h-blot-actin', 864, 1214, 351, 63, '#c6c6c6', [[869, 946, 1244, 26], [961, 1036, 1245, 26], [1047, 1124, 1245, 31], [1136, 1206, 1244, 28]]);
blot('panel-m-blot-qki5', 196, 2362, 351, 40, '#dcdcdc', [[342, 399, 2370, 12, '#999'], [411, 468, 2370, 10, '#aaa'], [203, 256, 2381, 15], [271, 330, 2382, 12], [342, 399, 2383, 20], [411, 468, 2383, 16], [481, 541, 2379, 12]]);
blot('panel-m-blot-ntn4', 196, 2411, 351, 50, '#8c8c8c', [[200, 250, 2425, 12, '#6a6a6a'], [345, 470, 2424, 14, '#555'], [490, 541, 2424, 12, '#666'], [200, 250, 2446, 12, '#1c1c1c'], [271, 315, 2447, 8, '#4a4a4a'], [345, 400, 2446, 13, '#1c1c1c'], [405, 470, 2446, 16, '#0e0e0e'], [490, 541, 2443, 11, '#1c1c1c']]);
blot('panel-m-blot-actin', 196, 2464, 351, 63, '#cacaca', [[204, 268, 2500, 28], [274, 336, 2501, 27], [341, 406, 2501, 26], [413, 475, 2500, 26], [480, 542, 2498, 28]]);

// ---------- bar panels
barPanel('panel-d', dCategories, dValues, dErrors, ['#045a08', '#f93c3c', '#c0c000', '#0000ee'], linear(0, 1.2, 1005.5, 691), {axisX: 180, labelX: 160, ticks: dTicks, first: 251.6, step: 109, w: 73, cap: 17, tick: true, xStart: 171, xEnd: 650});
barPanel('panel-e', eCategories, eValues, eErrors, ['#f93c3c', '#f93c3c', '#c0c000', '#c0c000'], linear(0, 3, 1010, 694), {axisX: 848, labelX: 829, ticks: eTicks, first: 920.5, step: 110, w: 74, cap: 18, tick: true, xStart: 839, xEnd: 1320});
barPanel('panel-f', fCategories, fValues, fErrors, ['#f93c3c', '#f93c3c', '#c0c000', '#c0c000'], linear(0, .6, 1018.5, 757), {axisX: 1546, labelX: 1532, ticks: fTicks, first: 1607, step: 92, w: 61, cap: 15, tick: true, xStart: 1540, xEnd: 1940});
barPanel('panel-g', gCategories, gValues, gErrors, ['#f93c3c', '#f93c3c', '#c0c000', '#c0c000'], linear(0, 3, 1607, 1310), {axisX: 164.5, labelX: 147, ticks: gTicks, first: 231, step: 102.7, w: 67, cap: 17, tick: true, xStart: 155, xEnd: 594});
barPanel('panel-h', hCategories, hValues, hErrors, ['#f93c3c', '#f93c3c', '#c0c000', '#c0c000'], linear(0, .8, 1614, 1350.8), {axisX: 845, labelX: 828, ticks: hTicks, first: 905.5, step: 91.5, w: 61, cap: 15, tick: true, xStart: 838, xEnd: 1242});
barPanel('panel-n1', nCategories, n1Values, n1Errors, ['#9a6320', '#ff6000', '#0f9a5f', '#c0c000', '#0a4a60'], linear(0, 1, 2593.5, 2333.5), {axisX: 900, labelX: 886, ticks: nTicks, first: 965, step: 70.3, w: 58, cap: 15, tick: false, xStart: 895, xEnd: 1293});
barPanel('panel-n2', nCategories, n2Values, n2Errors, ['#9a6320', '#ff6000', '#0f9a5f', '#c0c000', '#0a4a60'], linear(0, 1, 2586, 2332), {axisX: 1548, labelX: 1541, ticks: nTicks, first: 1614.5, step: 72.1, w: 58, cap: 15, tick: false, xStart: 1542, xEnd: 1954});

// ---------- scatter panels
scatterPanel('panel-i', iPoints, iFit, linear(2, 7, 1483.4, 1986.8), linear(2, 8, 1528.7, 1243), 3.9, '#e2111c', 5.5, {axisX: 1483.4, labelX: 1460, yTicks: iYTicks, xTicks: iXTicks, baseY: 1577, xStart: 1483, xEnd: 1988, tickLen: 14, labelY: 1609, fmt: v => String(v)});
scatterPanel('panel-j', jPoints, jFit, linear(2, 7, 132, 635.2), linear(2, 8, 2081.4, 1830.5), 3.9, '#e2111c', 5.5, {axisX: 132, labelX: 110, yTicks: jYTicks, xTicks: jXTicks, baseY: 2165.8, xStart: 119, xEnd: 636, tickLen: 14, labelY: 2200, fmt: v => String(v)});
scatterPanel('panel-k', kPoints, kFit, linear(0, 1.5, 870.5, 1325.8), linear(0, 1.5, 2144.7, 1842.5), 6.5, '#b23238', 3, {axisX: 870.5, labelX: 855, yTicks: kTicks, xTicks: kTicks, baseY: 2144.7, xStart: 864, xEnd: 1326, tickLen: 10, labelY: 2173, fmt: one});
scatterPanel('panel-l', lPoints, lFit, linear(0, 1.5, 1534.4, 1995.4), linear(0, 1.5, 2135, 1831), 6.5, '#b23238', 3, {axisX: 1534.4, labelX: 1517, yTicks: lTicks, xTicks: lTicks, baseY: 2135, xStart: 1528, xEnd: 1996, tickLen: 10, labelY: 2160, fmt: one});
</script>
</body>
</html>
